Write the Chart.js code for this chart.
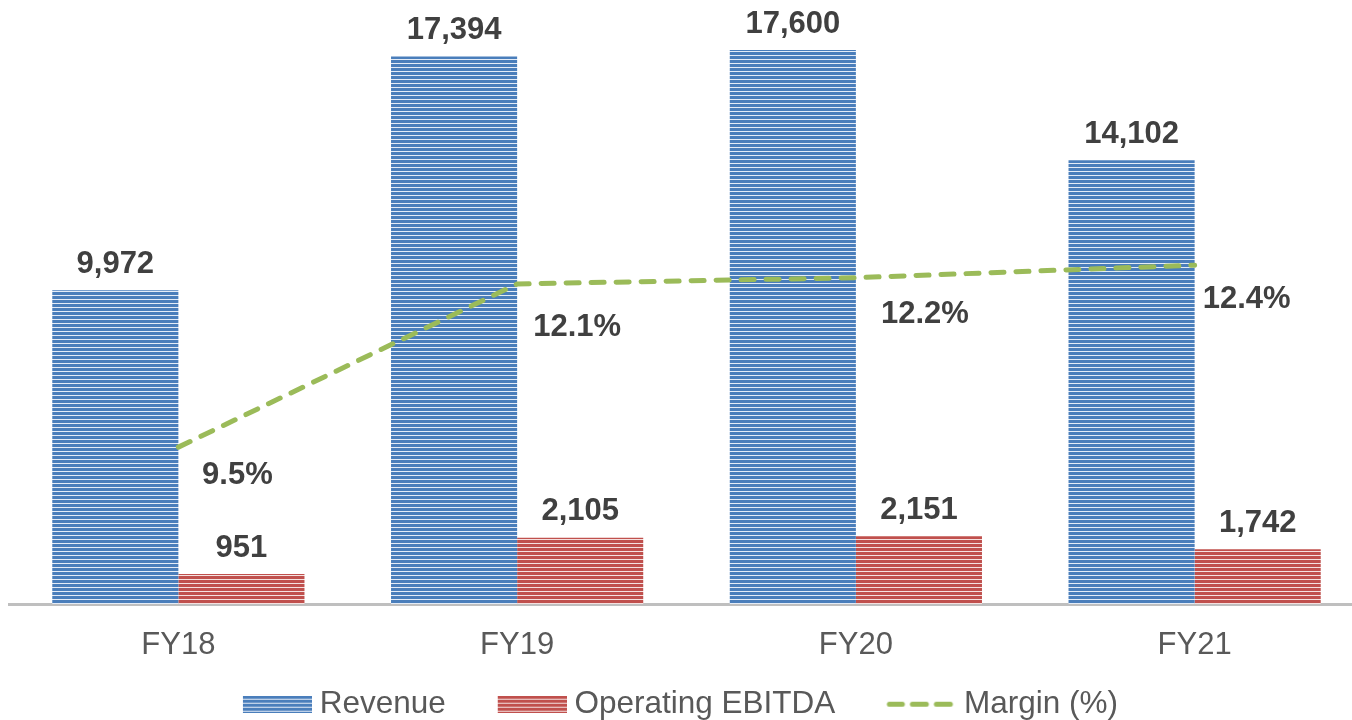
<!DOCTYPE html>
<html>
<head>
<meta charset="utf-8">
<script src="https://cdn.jsdelivr.net/npm/chart.js@4.4.1/dist/chart.umd.min.js"></script>
<style>
    html, body { margin: 0; padding: 0; background: #ffffff; overflow: hidden; }
    #wrap { width: 1352px; height: 720px; overflow: hidden; position: relative; }
    canvas { display: block; }
</style>
</head>
<body>
<div id="wrap"><canvas id="finChart" width="1364" height="730"></canvas></div>
<script>
const years = ["FY18", "FY19", "FY20", "FY21"];
const revenue = [9972, 17394, 17600, 14102];
const ebitda = [951, 2105, 2151, 1742];
const margin = [9.5, 12.1, 12.2, 12.4];

// where each margin label sits relative to its point (dx, dy)
const marginLabelOffsets = [[59, 28], [60, 43], [69, 37], [52, 34]];

const FONT = "'Liberation Sans', Arial, sans-serif";

function stripePattern(dark, light) {
    const c = document.createElement("canvas");
    c.width = 4;
    c.height = 4;
    const g = c.getContext("2d");
    g.fillStyle = dark;
    g.fillRect(0, 0, 4, 3);
    g.fillStyle = light;
    g.fillRect(0, 3, 4, 1);
    return g.createPattern(c, "repeat");
}

// swatch canvases are 77 wide, the visible part is the right 69px
function stripeSwatch(dark, light) {
    const c = document.createElement("canvas");
    c.width = 77;
    c.height = 17;
    const g = c.getContext("2d");
    g.fillStyle = stripePattern(dark, light);
    g.fillRect(8, 0, 69, 17);
    return c;
}

function dashSwatch(color) {
    const c = document.createElement("canvas");
    c.width = 77;
    c.height = 17;
    const g = c.getContext("2d");
    g.strokeStyle = color;
    g.lineWidth = 5;
    g.lineCap = "round";
    [[10, 23], [33, 47], [57, 71]].forEach(function (s) {
        g.beginPath();
        g.moveTo(s[0], 8.5);
        g.lineTo(s[1], 8.5);
        g.stroke();
    });
    return c;
}

const blueFill = stripePattern("#4a7ebb", "#e4ecf7");
const redFill = stripePattern("#c0504d", "#f5e1e0");
const legendSwatches = [
    stripeSwatch("#4a7ebb", "#e4ecf7"),
    stripeSwatch("#c0504d", "#f5e1e0"),
    dashSwatch("#9bbb59")
];

const valueLabels = {
    id: "valueLabels",
    afterLayout(chart) {
        // let the tick labels draw below the short axis box
        chart.scales.x.bottom = chart.scales.x.top + 80;
        chart.legend.left -= 12;
    },
    afterDatasetsDraw(chart) {
        const ctx = chart.ctx;
        ctx.save();
        ctx.font = "bold 31px " + FONT;
        ctx.fillStyle = "#404040";
        ctx.textAlign = "center";
        ctx.textBaseline = "middle";
        chart.data.datasets.forEach(function (ds, di) {
            const meta = chart.getDatasetMeta(di);
            meta.data.forEach(function (el, i) {
                const v = ds.data[i];
                if (ds.type === "line") {
                    const off = marginLabelOffsets[i];
                    ctx.fillText(v.toFixed(1) + "%", el.x + off[0], el.y + off[1]);
                } else {
                    ctx.fillText(v.toLocaleString("en-US"), el.x, el.y - 26);
                }
            });
        });
        ctx.restore();
    }
};

new Chart(document.getElementById("finChart"), {
    data: {
        labels: years,
        datasets: [
            {
                type: "bar",
                label: "Revenue",
                data: revenue,
                backgroundColor: blueFill,
                yAxisID: "y",
                order: 1
            },
            {
                type: "bar",
                label: "Operating EBITDA",
                data: ebitda,
                backgroundColor: redFill,
                yAxisID: "y",
                order: 1
            },
            {
                type: "line",
                label: "Margin (%)",
                data: margin,
                borderColor: "#9bbb59",
                backgroundColor: "#9bbb59",
                borderWidth: 5,
                borderDash: [13, 12],
                borderCapStyle: "round",
                pointRadius: 0,
                tension: 0,
                fill: false,
                yAxisID: "y2",
                order: 0
            }
        ]
    },
    options: {
        responsive: false,
        animation: false,
        datasets: {
            bar: { categoryPercentage: 0.7445, barPercentage: 1 }
        },
        layout: { padding: { top: 6, left: 9, right: 0, bottom: 0 } },
        scales: {
            x: {
                grid: { display: false, drawTicks: false },
                border: { display: true, color: "#bfbfbf", width: 3 },
                ticks: { color: "#595959", font: { family: FONT, size: 31 }, padding: 23 },
                afterFit: function (scale) { scale.height = 32.5; }
            },
            y: { display: false, min: 0, max: 19000 },
            y2: { display: false, min: 7, max: 16.53 }
        },
        plugins: {
            tooltip: { enabled: false },
            legend: {
                position: "bottom",
                labels: {
                    usePointStyle: true,
                    pointStyleWidth: 61,
                    boxHeight: 17,
                    padding: 52,
                    color: "#595959",
                    font: { family: FONT, size: 31.5 },
                    generateLabels: function (chart) {
                        const items = Chart.defaults.plugins.legend.labels.generateLabels(chart);
                        items.sort(function (a, b) { return a.datasetIndex - b.datasetIndex; });
                        items.forEach(function (it) { it.pointStyle = legendSwatches[it.datasetIndex]; });
                        return items;
                    }
                }
            }
        }
    },
    plugins: [valueLabels]
});
</script>
</body>
</html>
